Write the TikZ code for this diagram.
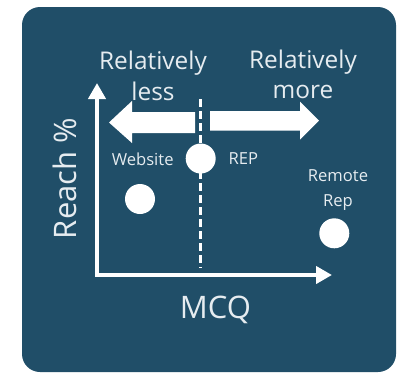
\documentclass[tikz,border=0pt]{standalone}
\usepackage{fontspec}
\setmainfont{Open Sans}
\usetikzlibrary{arrows.meta}
\definecolor{panel}{RGB}{32,78,104}
\definecolor{labelc}{RGB}{230,236,240}
\tikzset{
  lbl/.style={text=labelc, inner sep=0pt, anchor=base},
  big/.style={lbl, font=\fontsize{24.4}{31}\selectfont, align=center},
  axislbl/.style={lbl, font=\fontsize{31}{36}\selectfont},
  small/.style={lbl, font=\fontsize{16.6}{25.5}\selectfont, align=center},
  dot/.style={circle, fill=white, minimum size=30pt, inner sep=0pt},
  axis/.style={draw=white, line width=4pt, line join=miter,
    {Triangle[width=17pt,length=16pt]}-{Triangle[width=17pt,length=16pt]}},
  divider/.style={draw=white, line width=2.5pt, dash pattern=on 8pt off 4pt},
  blockarrow/.style={fill=white}
}
\begin{document}
\begin{tikzpicture}[x=1pt,y=-1pt]
\useasboundingbox (0,0) rectangle (397,373);
% panel
\fill[panel, rounded corners=18pt] (22,7) rectangle (396,372);

% axes
\coordinate (ytop) at (97,83);
\coordinate (origin) at (97,275);
\coordinate (xend) at (332,275);
\draw[axis] (ytop) |- (xend);

% dashed divider
\coordinate (divtop) at (200.5,99);
\coordinate (divbot) at (200.5,268);
\draw[divider] (divtop) -- (divbot);

% block arrows
\fill[blockarrow] (195,112) -- (132,112) -- (132,101) -- (109,122.5)
  -- (132,143) -- (132,133) -- (195,133) -- cycle;
\fill[blockarrow] (210,111) -- (300,111) -- (300,101.5) -- (319,120.5)
  -- (300,139.5) -- (300,130.5) -- (210,130.5) -- cycle;

% data points
\node[dot] (rep) at (200.7,158.5) {};
\node[dot] (web) at (140,199) {};
\node[dot] (remote) at (334.3,233.3) {};

% labels (multi-line nodes sit on the baseline of their last line)
\node[big] (less) at (153,100.5) {Relatively\\less};
\node[big, font=\fontsize{24.4}{30}\selectfont] (more) at (303,98.5) {Relatively\\more};
\node[axislbl, rotate=90] (reach) at (76,178.5) {Reach \%};
\node[axislbl] (mcq) at (215.5,318) {MCQ};
\node[small] (weblbl) at (142.7,165) {Website};
\node[small] (replbl) at (243.3,164) {REP};
\node[small] (remotelbl) at (338,206.5) {Remote\\Rep};
\end{tikzpicture}
\end{document}
